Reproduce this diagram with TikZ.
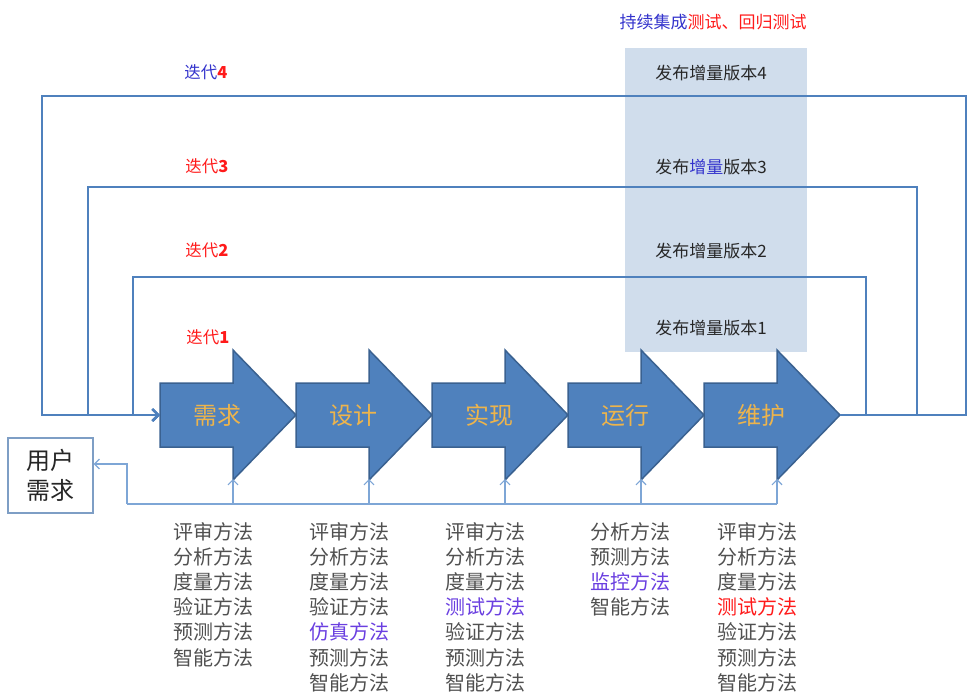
\documentclass[tikz,border=0pt]{standalone}
\usepackage{fontspec}
\setmainfont{Noto Sans CJK SC}
\usetikzlibrary{arrows.meta}
\definecolor{ablue}{HTML}{4F81BD}
\definecolor{aedge}{HTML}{3A6190}
\definecolor{lblue}{HTML}{7EA6D6}
\definecolor{relshade}{HTML}{D0DDEC}
\definecolor{stagetxt}{HTML}{EDB44C}
\definecolor{mgray}{HTML}{505050}
\definecolor{tblue}{HTML}{3333CC}
\definecolor{mblue}{HTML}{6A3FE0}
\definecolor{tred}{HTML}{FF1A1A}
\tikzset{
  stagebox/.style={fill=ablue,draw=aedge,line width=1.5pt,line join=miter},
  stagelabel/.style={text=stagetxt,font=\fontsize{24}{28}\selectfont,inner sep=0pt},
  loopline/.style={draw=ablue,-{Straight Barb[length=6pt,width=12pt]}},
  fbline/.style={draw=lblue,line width=1.2pt},
  fbarrow/.style={draw=lblue,line width=1.2pt,-{Straight Barb[length=5pt,width=10pt]}},
  iterlabel/.style={font=\fontsize{16.5}{20}\selectfont,inner sep=0pt},
  rellabel/.style={font=\fontsize{17}{20}\selectfont,inner sep=0pt,text=black!85},
  methods/.style={font=\fontsize{20}{25.2}\selectfont,align=left,anchor=north west,inner sep=0pt,text=mgray}
}
\begin{document}
\begin{tikzpicture}[x=1pt,y=-1pt]
\useasboundingbox (0,0) rectangle (976,699);
% shaded release column
\fill[fill=relshade] (625,48) rectangle (807,352);
\node[rellabel] (title) at (713,22) {\textcolor{tblue}{持续集成}\textcolor{tred}{测试、回归测试}};
\node[rellabel] (rel4) at (711,73) {发布增量版本4};
\node[rellabel] (rel3) at (711,167) {发布\textcolor{tblue}{增量}版本3};
\node[rellabel] (rel2) at (711,251) {发布增量版本2};
\node[rellabel] (rel1) at (711,328) {发布增量版本1};
% iteration labels
\node[iterlabel] (it4) at (206,72) {\textcolor{tblue}{迭代}\textcolor{tred}{\bfseries 4}};
\node[iterlabel,text=tred] (it3) at (207,166) {迭代\bfseries 3};
\node[iterlabel,text=tred] (it2) at (207,250) {迭代\bfseries 2};
\node[iterlabel,text=tred] (it1) at (208,337) {迭代\bfseries 1};
% stages
\foreach \i/\t/\n in {0/需求/req,1/设计/des,2/实现/imp,3/运行/run,4/维护/mnt}{
  \pgfmathsetmacro\xl{160+136*\i}
  \draw[stagebox] (\xl,383) -- (\xl+73,383) -- (\xl+73,350) -- (\xl+136,415) -- (\xl+73,480) -- (\xl+73,447) -- (\xl,447) -- cycle;
  \node[stagelabel] (\n) at (\xl+57,415) {\t};
  \coordinate (\n-in) at (\xl,415);
  \coordinate (\n-tip) at (\xl+136,415);
  \coordinate (\n-foot) at (\xl+73,479);
  \coordinate (\n-base) at (\xl+73,504);
}
% iteration loops
\coordinate (a1) at (866,415); \coordinate (b1) at (866,277); \coordinate (c1) at (133,277); \coordinate (d1) at (133,415);
\coordinate (a2) at (917,415); \coordinate (b2) at (917,187); \coordinate (c2) at (88,187); \coordinate (d2) at (88,415);
\coordinate (a3) at (966,415); \coordinate (b3) at (966,96); \coordinate (c3) at (42,96); \coordinate (d3) at (42,415);
\draw[loopline,line width=1.6pt] (mnt-tip) -- (a3) -- (b3) -- (c3) -- (d3) -- (req-in);
\draw[loopline,line width=1.9pt] (mnt-tip) -- (a2) -- (b2) -- (c2) -- (d2) -- (req-in);
\draw[loopline,line width=2.6pt] (mnt-tip) -- (a1) -- (b1) -- (c1) -- (d1) -- (req-in);
% user requirement box
\node[draw=lblue!80!gray,line width=1.2pt,minimum width=85pt,minimum height=75pt,inner sep=0pt,align=center,
      font=\fontsize{24}{30}\selectfont,text=black!85] (user) at (50.5,475.5) {用户\\需求};
% feedback lines
\coordinate (fb0) at (127,504);
\coordinate (fb1) at (127,464);
\draw[fbline] (fb0) -- (mnt-base);
\draw[fbarrow] (fb0) -- (fb1) -- (user.east |- fb1);
\foreach \n in {req,des,imp,run,mnt}{
  \draw[fbarrow] (\n-base) -- (\n-foot);
}
% method lists
\node[methods] (m1) at (173,522) {评审方法\\分析方法\\度量方法\\验证方法\\预测方法\\智能方法};
\node[methods] (m2) at (309,522) {评审方法\\分析方法\\度量方法\\验证方法\\\textcolor{mblue}{仿真方法}\\预测方法\\智能方法};
\node[methods] (m3) at (445,522) {评审方法\\分析方法\\度量方法\\\textcolor{mblue}{测试方法}\\验证方法\\预测方法\\智能方法};
\node[methods] (m4) at (590,522) {分析方法\\预测方法\\\textcolor{mblue}{监控方法}\\智能方法};
\node[methods] (m5) at (717,522) {评审方法\\分析方法\\度量方法\\\textcolor{tred}{测试方法}\\验证方法\\预测方法\\智能方法};
\end{tikzpicture}
\end{document}
